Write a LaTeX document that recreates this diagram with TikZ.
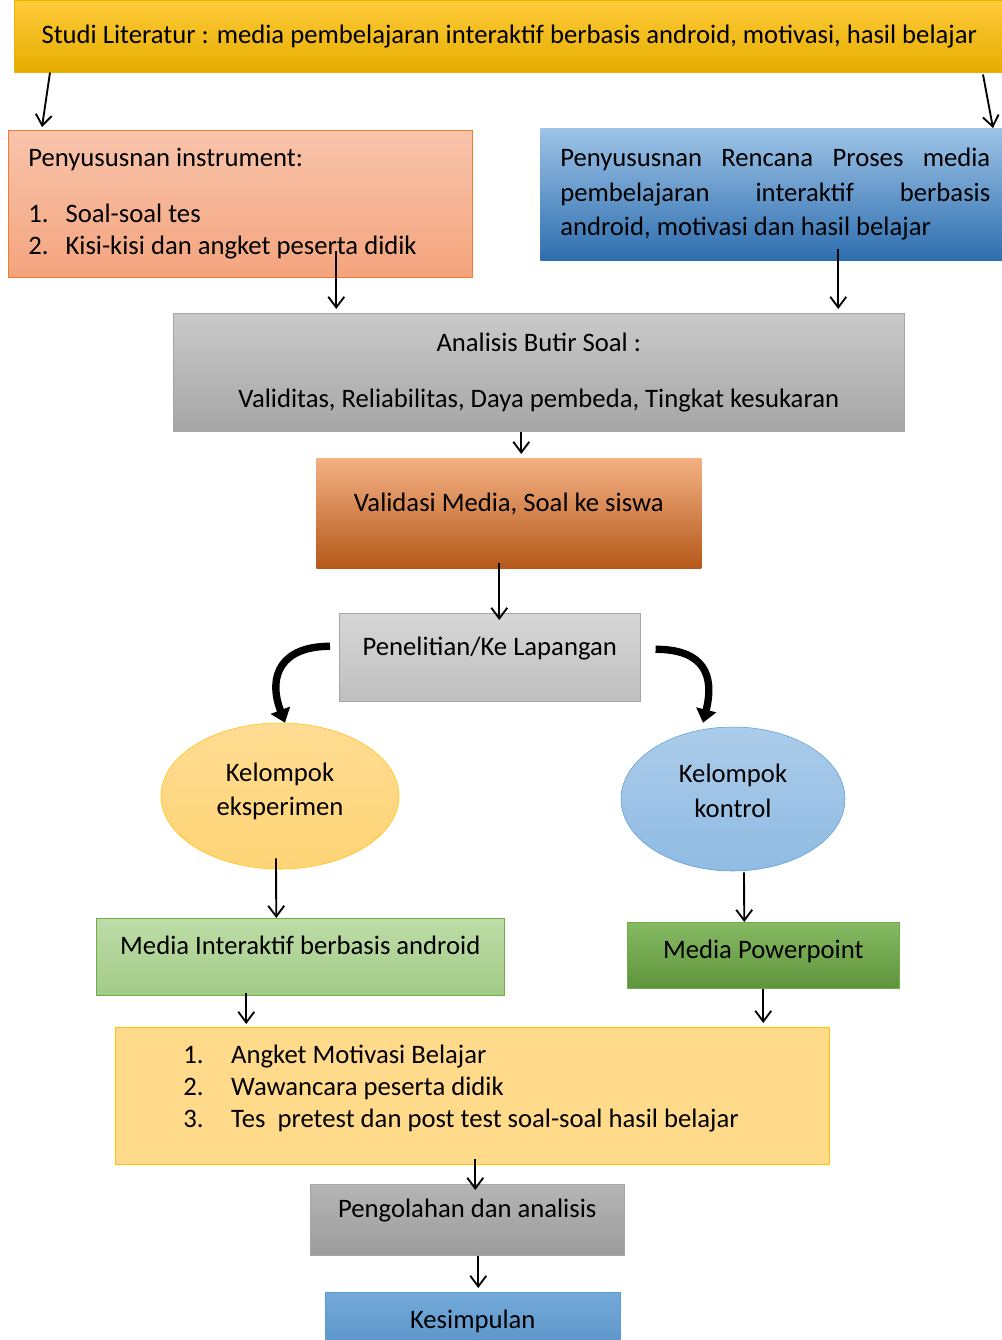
\documentclass[tikz,border=0pt]{standalone}
\usepackage{fontspec}
\setmainfont{Carlito}
\usetikzlibrary{arrows.meta,shapes.geometric,calc}

\definecolor{goldT}{HTML}{FFCB3A}
\definecolor{goldB}{HTML}{E5AD00}
\definecolor{salmT}{HTML}{F8C4AB}
\definecolor{salmB}{HTML}{F4A47E}
\definecolor{salmD}{HTML}{ED7D31}
\definecolor{bluT}{HTML}{9DC3E6}
\definecolor{bluB}{HTML}{2E6EAF}
\definecolor{bluD}{HTML}{5B9BD5}
\definecolor{oraT}{HTML}{F4B183}
\definecolor{oraB}{HTML}{B5581A}
\definecolor{gryD}{HTML}{A6A6A6}
\definecolor{yelT}{HTML}{FFDC93}
\definecolor{yelB}{HTML}{FFD475}
\definecolor{yelD}{HTML}{FFC000}
\definecolor{grnT}{HTML}{BEDCA8}
\definecolor{grnB}{HTML}{A2CB86}
\definecolor{grnD}{HTML}{70AD47}

\newcommand{\nomor}[2][28pt]{\makebox[#1][l]{#2}}
\newcommand{\naik}[1]{\rule[-#1]{0pt}{#1}}

\tikzset{
  box/.style={rectangle, anchor=north west, inner sep=0pt, font=\fontsize{20}{24}\selectfont},
  sz/.style 2 args={minimum width=#1*0.75pt, minimum height=#2*0.75pt},
  up/.style={text height=12pt, text depth=#1},
  up/.default=15pt,
  oval/.style={ellipse, inner sep=0pt, align=center, font=\fontsize{20}{26}\selectfont},
  arr/.style={-{Straight Barb[length=8pt,width=12pt]}, line width=1.4pt},
  curvearr/.style={-{Triangle[length=10pt,width=15pt]}, line width=5.5pt},
}

\begin{document}
\hyphenpenalty=10000
\begin{tikzpicture}[x=0.75pt,y=-0.75pt]
\useasboundingbox (0,0) rectangle (1001,1340);

% boxes
\node[box, sz={990}{72}, top color=goldT, bottom color=goldB, draw=goldB!70!yelD] (lit) at (14,0)
  {Studi Literatur : media pembelajaran interaktif berbasis android, motivasi, hasil belajar};
\node[box, sz={464}{147}, top color=salmT, bottom color=salmB, draw=salmD, inner xsep=20*0.75pt,
  text width=424*0.75pt, align=flush left] (ins) at (8,130)
  {Penyususnan instrument:\\[18pt]\nomor{1.}Soal-soal tes\\\nomor{2.}Kisi-kisi dan angket peserta didik};
\node[box, sz={470}{132}, top color=bluT, bottom color=bluB, text width=430*0.75pt, align=justify,
  font=\fontsize{20}{26}\selectfont] (ren) at (540,128)
  {Penyususnan Rencana Proses media pembelajaran interaktif berbasis android, motivasi dan hasil belajar};
\node[box, sz={731}{118}, top color=gray!42, bottom color=gray!70, draw=gryD, align=center,
  font=\fontsize{20}{26}\selectfont] (ana) at (173,313)
  {Analisis Butir Soal :\\[16pt]Validitas, Reliabilitas, Daya pembeda, Tingkat kesukaran};
\node[box, up, sz={385}{110}, top color=oraT, middle color=salmD, bottom color=oraB] (val) at (316,458)
  {Validasi Media, Soal ke siswa};
\node[box, up, sz={301}{88}, top color=gray!32, bottom color=gray!50, draw=gryD] (pen) at (339,613)
  {Penelitian/Ke Lapangan};

% ellipses
\node[oval, sz={238}{146}, top color=yelT, bottom color=yelB, draw=yelD] (eks) at (280,796)
  {Kelompok\\eksperimen\naik{10pt}};
\node[oval, sz={224}{144}, top color=bluT!85!white, bottom color=bluT!80!bluD, draw=bluD] (kon) at (733,799)
  {Kelompok\\kontrol\naik{12pt}};

\node[box, up, sz={408}{77}, top color=grnT, bottom color=grnB, draw=grnD] (and) at (96,918)
  {Media Interaktif berbasis android};
\node[box, up=7pt, sz={272}{66}, top color=grnD!85!white, bottom color=grnD!85!black, draw=grnD] (ppt) at (627,922)
  {Media Powerpoint};
\node[box, sz={714}{137}, fill=yelT!70!yelB, draw=yelD, inner xsep=68*0.75pt, text width=578*0.75pt,
  align=flush left] (ang) at (115,1027)
  {\nomor[36pt]{1.}Angket Motivasi Belajar\\\nomor[36pt]{2.}Wawancara peserta didik\\
   \nomor[36pt]{3.}Tes~ pretest dan post test soal-soal hasil belajar\naik{14pt}};
\node[box, up, sz={314}{71}, top color=gray!58, bottom color=gray!78, draw=gryD] (olah) at (310,1184)
  {Pengolahan dan analisis};
\node[box, up=18pt, sz={295}{80}, top color=bluD!85!white, bottom color=bluD!90!black, draw=bluD] (kes) at (325,1292)
  {Kesimpulan};

% arrows
\draw[arr] ($(lit.south west)+(36,0)$) -- ($(ins.north west)+(34,-3)$);
\draw[arr] ($(lit.south west)+(969,2)$) -- ($(ren.north west)+(453,0)$);
\draw[arr] ($(ins.south)+(96,-27)$) -- ($(ana.north)+(-202.5,-4)$);
\draw[arr] ($(ren.south)+(63,-12)$) -- ($(ana.north)+(299.5,-4)$);
\draw[arr] ($(ana.south)+(-17.5,0)$) -- ($(val.north)+(12.5,-4)$);
\draw[arr] ($(val.south)+(-9.5,-6)$) -- ($(pen.north)+(9.5,7)$);
\draw[curvearr] ($(pen.west)+(-9,-11)$) .. controls +(-48,0) and +(-18,-48) .. ($(eks.north)+(5,0)$);
\draw[curvearr] ($(pen.east)+(15,-8)$) .. controls +(48,0) and +(12,-48) .. ($(kon.north)+(-30,-4)$);
\draw[arr] ($(eks.south)+(-4,-11)$) -- ($(and.north)+(-24,0)$);
\draw[arr] ($(kon.south)+(11,1)$) -- ($(ppt.north)+(-19,0)$);
\draw[arr] ($(and.south)+(-54,-3)$) -- ($(ang.north)+(-226,-3)$);
\draw[arr] (ppt.south) -- ($(ang.north)+(291,-4)$);
\draw[arr] ($(ang.south)+(3,-6)$) -- ($(olah.north)+(8,6)$);
\draw[arr] ($(olah.south)+(11,0)$) -- ($(kes.north)+(5.5,-4)$);
\end{tikzpicture}
\end{document}
